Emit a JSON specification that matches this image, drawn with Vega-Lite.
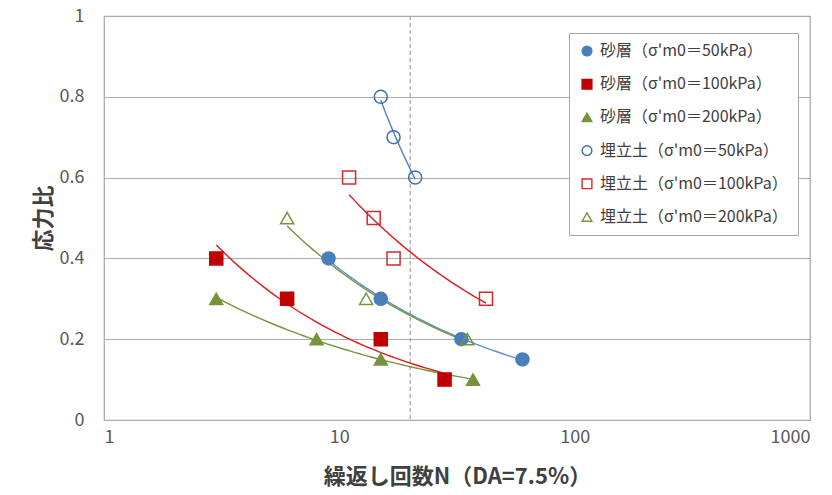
{
  "$schema": "https://vega.github.io/schema/vega-lite/v6.json",
  "width": 706,
  "height": 404,
  "autosize": {"type": "none"},
  "padding": {"left": 104, "top": 16, "right": 22, "bottom": 75},
  "background": "white",
  "config": {
    "font": "Noto Sans CJK JP",
    "view": {"stroke": "#A6A6A6", "strokeWidth": 1.2},
    "axis": {
      "labelFont": "Noto Sans CJK JP",
      "labelFontSize": 18,
      "labelColor": "#595959",
      "titleFont": "Noto Sans CJK JP",
      "titleFontSize": 22,
      "titleFontWeight": "bold",
      "titleColor": "#404040",
      "domain": false,
      "ticks": false,
      "tickSize": 0
    },
    "legend": {
      "orient": "none",
      "legendX": 465,
      "legendY": 17,
      "padding": 10,
      "rowPadding": 17.2,
      "symbolSize": 95,
      "symbolStrokeWidth": 1.4,
      "labelOffset": 5,
      "strokeColor": "#A6A6A6",
      "fillColor": "white",
      "labelFont": "Noto Sans CJK JP",
      "labelFontSize": 16,
      "labelColor": "#404040",
      "labelLimit": 300
    }
  },
  "datasets": {
    "tests": [
      {"series": "砂層（σ'm0＝50kPa）", "N": 9, "ratio": 0.4},
      {"series": "砂層（σ'm0＝50kPa）", "N": 15, "ratio": 0.3},
      {"series": "砂層（σ'm0＝50kPa）", "N": 33, "ratio": 0.2},
      {"series": "砂層（σ'm0＝50kPa）", "N": 60, "ratio": 0.15},
      {"series": "砂層（σ'm0＝100kPa）", "N": 3, "ratio": 0.4},
      {"series": "砂層（σ'm0＝100kPa）", "N": 6, "ratio": 0.3},
      {"series": "砂層（σ'm0＝100kPa）", "N": 15, "ratio": 0.2},
      {"series": "砂層（σ'm0＝100kPa）", "N": 28, "ratio": 0.1},
      {"series": "砂層（σ'm0＝200kPa）", "N": 3, "ratio": 0.3},
      {"series": "砂層（σ'm0＝200kPa）", "N": 8, "ratio": 0.2},
      {"series": "砂層（σ'm0＝200kPa）", "N": 15, "ratio": 0.15},
      {"series": "砂層（σ'm0＝200kPa）", "N": 37, "ratio": 0.1},
      {"series": "埋立土（σ'm0＝50kPa）", "N": 15, "ratio": 0.8},
      {"series": "埋立土（σ'm0＝50kPa）", "N": 17, "ratio": 0.7},
      {"series": "埋立土（σ'm0＝50kPa）", "N": 21, "ratio": 0.6},
      {"series": "埋立土（σ'm0＝100kPa）", "N": 11, "ratio": 0.6},
      {"series": "埋立土（σ'm0＝100kPa）", "N": 14, "ratio": 0.5},
      {"series": "埋立土（σ'm0＝100kPa）", "N": 17, "ratio": 0.4},
      {"series": "埋立土（σ'm0＝100kPa）", "N": 42, "ratio": 0.3},
      {"series": "埋立土（σ'm0＝200kPa）", "N": 6, "ratio": 0.5},
      {"series": "埋立土（σ'm0＝200kPa）", "N": 13, "ratio": 0.3},
      {"series": "埋立土（σ'm0＝200kPa）", "N": 35, "ratio": 0.2}
    ],
    "reference": [{"N": 20}]
  },
  "encoding": {
    "x": {
      "field": "N",
      "type": "quantitative",
      "scale": {"type": "log", "domain": [1, 1000], "nice": false},
      "axis": {
        "title": "繰返し回数N（DA=7.5%）",
        "values": [1, 10, 100, 1000],
        "format": ".0f",
        "grid": false,
        "labelPadding": 8,
        "titlePadding": 20
      }
    },
    "y": {
      "field": "ratio",
      "type": "quantitative",
      "scale": {"domain": [0, 1], "nice": false},
      "axis": {
        "title": "応力比",
        "values": [0, 0.2, 0.4, 0.6, 0.8, 1],
        "format": "~g",
        "grid": true,
        "gridColor": "#ABABAB",
        "gridWidth": 1.2,
        "labelPadding": 20,
        "titlePadding": 4
      }
    }
  },
  "layer": [
    {
      "data": {"name": "reference"},
      "mark": {"type": "rule", "color": "#A6A6A6", "strokeWidth": 1.3, "strokeDash": [4, 3]},
      "encoding": {"x": {"field": "N", "type": "quantitative"}, "y": null}
    },
    {
      "data": {"name": "tests"},
      "transform": [
        {"regression": "ratio", "on": "N", "groupby": ["series"], "method": "pow"}
      ],
      "mark": {"type": "line", "strokeWidth": 1.4},
      "encoding": {
        "color": {
          "field": "series",
          "type": "nominal",
          "scale": {
            "domain": ["埋立土（σ'm0＝50kPa）", "埋立土（σ'm0＝100kPa）", "埋立土（σ'm0＝200kPa）", "砂層（σ'm0＝50kPa）", "砂層（σ'm0＝100kPa）", "砂層（σ'm0＝200kPa）"],
            "range": ["#4F81C4", "#E3171B", "#77933C", "#5B8FD3", "#E3171B", "#77933C"]
          },
          "legend": null
        }
      }
    },
    {
      "data": {"name": "tests"},
      "mark": {"type": "point", "opacity": 1, "strokeWidth": 1.5, "size": 170},
      "encoding": {
        "shape": {
          "field": "series",
          "type": "nominal",
          "scale": {
            "domain": ["砂層（σ'm0＝50kPa）", "砂層（σ'm0＝100kPa）", "砂層（σ'm0＝200kPa）", "埋立土（σ'm0＝50kPa）", "埋立土（σ'm0＝100kPa）", "埋立土（σ'm0＝200kPa）"],
            "range": ["circle", "square", "triangle-up", "circle", "square", "triangle-up"]
          },
          "legend": {"title": null}
        },
        "fill": {
          "field": "series",
          "type": "nominal",
          "scale": {
            "domain": ["砂層（σ'm0＝50kPa）", "砂層（σ'm0＝100kPa）", "砂層（σ'm0＝200kPa）", "埋立土（σ'm0＝50kPa）", "埋立土（σ'm0＝100kPa）", "埋立土（σ'm0＝200kPa）"],
            "range": ["#4A7EBB", "#C00000", "#77933C", "transparent", "transparent", "transparent"]
          },
          "legend": {"title": null}
        },
        "stroke": {
          "field": "series",
          "type": "nominal",
          "scale": {
            "domain": ["砂層（σ'm0＝50kPa）", "砂層（σ'm0＝100kPa）", "砂層（σ'm0＝200kPa）", "埋立土（σ'm0＝50kPa）", "埋立土（σ'm0＝100kPa）", "埋立土（σ'm0＝200kPa）"],
            "range": ["#4A7EBB", "#C00000", "#77933C", "#3F6FAF", "#D42A2A", "#77933C"]
          },
          "legend": {"title": null}
        }
      }
    }
  ]
}
